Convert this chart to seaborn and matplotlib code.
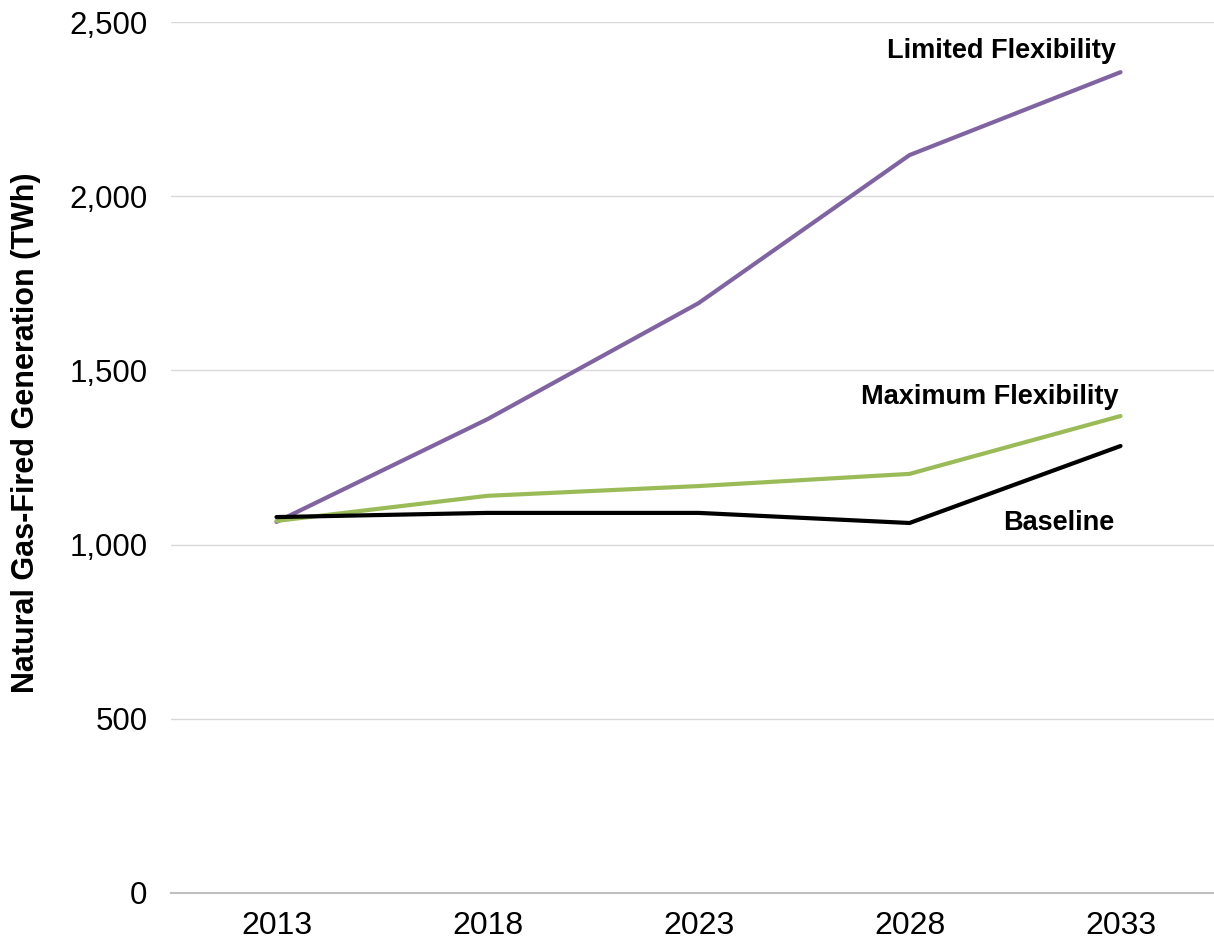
import matplotlib
matplotlib.use("Agg")
import matplotlib.pyplot as plt
import seaborn as sns
import pandas as pd
from matplotlib.ticker import FuncFormatter

years = ["2013", "2018", "2023", "2028", "2033"]
limited = [1065, 1360, 1693, 2118, 2356]
maximum = [1068, 1140, 1168, 1203, 1369]
baseline = [1079, 1091, 1091, 1062, 1283]

series_names = ["Limited Flexibility", "Maximum Flexibility", "Baseline"]
colors = ["#8064A2", "#9BBB59", "#000000"]

rows = []
for name, vals in zip(series_names, [limited, maximum, baseline]):
    for i, (y, v) in enumerate(zip(years, vals)):
        rows.append({"idx": i, "year": y, "value": v, "series": name})
df = pd.DataFrame(rows)

sns.set_theme(style="white")
plt.rcParams['font.family'] = ['Liberation Sans', 'DejaVu Sans']
plt.rcParams['text.color'] = 'black'

fig = plt.figure(figsize=(12.14, 9.43), dpi=100)
ax = fig.add_axes([171/1214, 1 - 893/943, (1214-171)/1214, (893-22)/943])

sns.lineplot(data=df, x="idx", y="value", hue="series", hue_order=series_names,
             palette=colors, linewidth=3, ax=ax, legend=False)

ax.set_ylim(0, 2500)
ax.set_yticks([0, 500, 1000, 1500, 2000, 2500])
ax.yaxis.set_major_formatter(FuncFormatter(lambda v, p: f"{int(v):,}"))
ax.set_xlim(-0.5, 4.443)
ax.set_xticks(range(len(years)))
ax.set_xticklabels(years)
ax.set_xticks([-0.5, 0.5, 1.5, 2.5, 3.5], minor=True)
ax.tick_params(axis="x", which="major", length=0, labelsize=23, pad=13, colors="black")
ax.tick_params(axis="x", which="minor", length=10, width=1.2, color="#BFBFBF", direction="out")
ax.tick_params(axis="y", length=0, labelsize=22.5, pad=29, colors="black")
for lbl in ax.get_yticklabels():
    pass
ax.tick_params(axis="y", pad=17)
ax.grid(axis="y", color="#D9D9D9", linewidth=1)
ax.grid(axis="x", visible=False)
for s in ["top", "right", "left"]:
    ax.spines[s].set_visible(False)
ax.spines["bottom"].set_color("#BFBFBF")
ax.spines["bottom"].set_linewidth(1.5)
ax.set_xlabel("")
ax.set_ylabel("Natural Gas-Fired Generation (TWh)", fontsize=22, fontweight="bold",
              color="black")
ax.yaxis.set_label_coords(-0.125, 0.528)

ax.text(3.98, 2380, "Limited Flexibility", ha="right", va="bottom", fontsize=19.5,
        fontweight="bold", color="black")
ax.text(3.99, 1385, "Maximum Flexibility", ha="right", va="bottom", fontsize=19.5,
        fontweight="bold", color="black")
ax.text(3.97, 1062, "Baseline", ha="right", va="center", fontsize=19.5,
        fontweight="bold", color="black")

fig.savefig("out.png", dpi=100)
